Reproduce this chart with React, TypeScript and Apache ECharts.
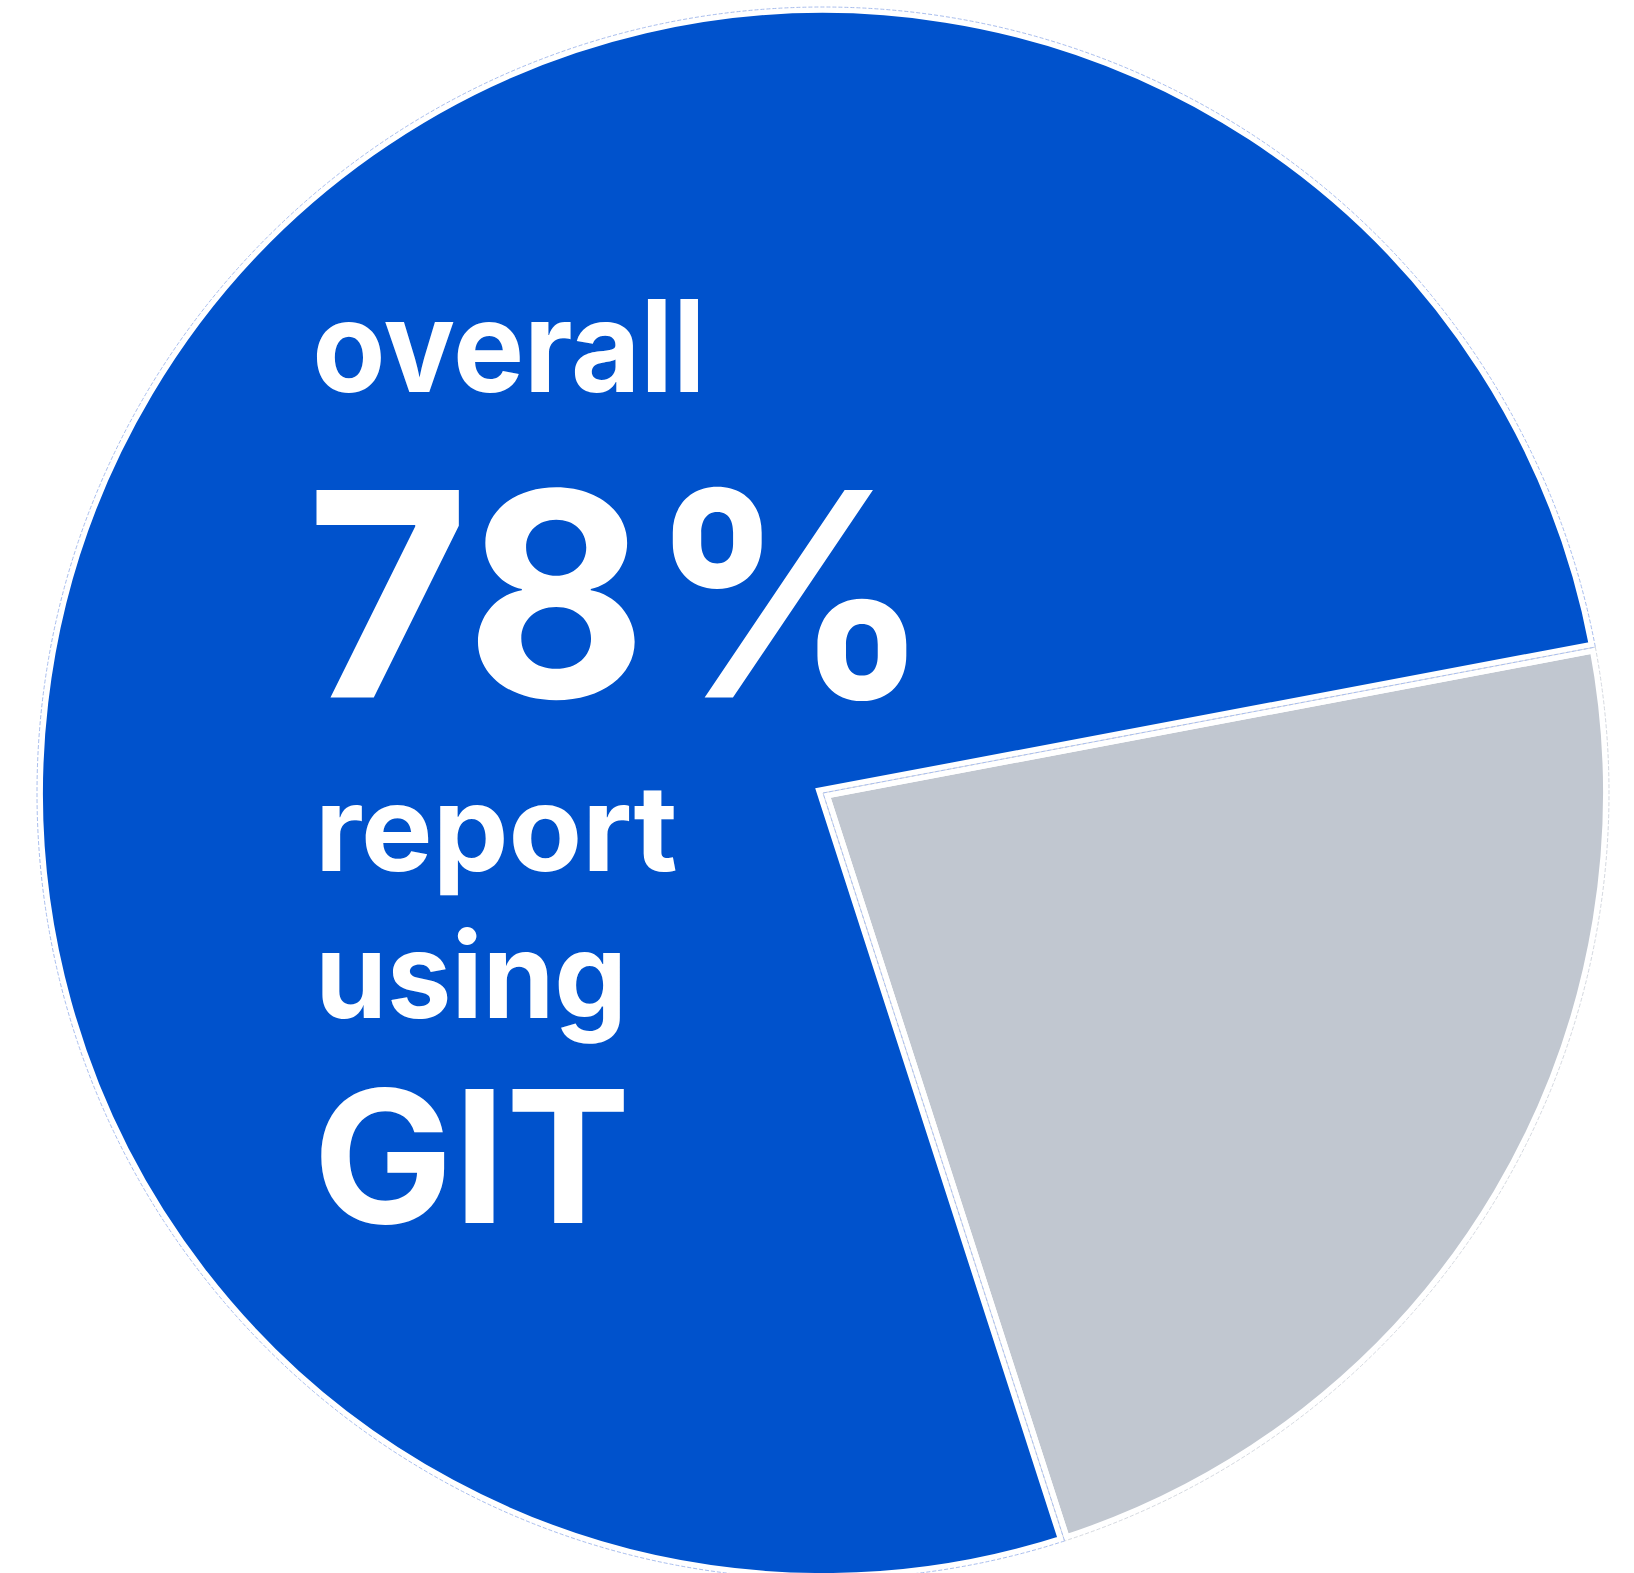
import React, { useEffect, useRef } from 'react';
import * as echarts from 'echarts';

// ---- data ----
const sliceNames = ['Other', 'GIT'];
const sliceValues = [23, 77];
const sliceColors = ['#C1C7D0', '#0052CC'];
const outlineColors = ['#D5D9E0', '#A9BEEE'];
const headlineTexts = ['overall', '78%', 'report', 'using', 'GIT'];

// ---- layout ----
const W = 1634;
const H = 1573;
const CENTER: [number, number] = [823, 793];
const RADIUS = 786;
const BORDER = 12;
const FONT = 'Inter';
const WEIGHT = 700;
// ink boxes: [left, right, top, baseline]
const TEXT_BOXES = [
  [317, 698, 299, 392],
  [315, 910, 486, 697],
  [322, 676, 790, 871],
  [322, 620, 925, 1018],
  [321, 624, 1087, 1223],
];

export default function App() {
  const ref = useRef<HTMLDivElement>(null);

  useEffect(() => {
    if (!ref.current) return;
    const chart = echarts.init(ref.current, null, { renderer: 'svg', width: W, height: H });

    const canvas = document.createElement('canvas');
    const ctx = canvas.getContext('2d');
    const graphics = headlineTexts.map((t, i) => {
      const [left, right, top, base] = TEXT_BOXES[i];
      let size = (base - top) / 0.75;
      let scaleX = 1;
      let x = left;
      let y = base - size * 0.35;
      if (ctx) {
        ctx.font = `${WEIGHT} 100px ${FONT}`;
        const m = ctx.measureText(t);
        if (m.actualBoundingBoxAscent > 0) {
          size = (100 * (base - top)) / m.actualBoundingBoxAscent;
          ctx.font = `${WEIGHT} ${size}px ${FONT}`;
          const m2 = ctx.measureText(t);
          const inkW = m2.actualBoundingBoxLeft + m2.actualBoundingBoxRight;
          scaleX = (right - left) / inkW;
          x = left + scaleX * m2.actualBoundingBoxLeft;
          const fa = m2.fontBoundingBoxAscent;
          const fd = m2.fontBoundingBoxDescent;
          if (isFinite(fa) && isFinite(fd)) y = base - (fa - fd) / 2;
        }
      }
      return {
        type: 'text',
        x,
        y,
        scaleX,
        scaleY: 1,
        silent: true,
        z: 10,
        style: {
          text: t,
          fontSize: size,
          fontFamily: FONT,
          fontWeight: WEIGHT,
          fill: '#FFFFFF',
          textAlign: 'left',
          textVerticalAlign: 'middle',
          verticalAlign: 'middle',
        },
      };
    });

    chart.setOption({
      animation: false,
      backgroundColor: '#FFFFFF',
      graphic: graphics,
      series: [
        {
          type: 'pie',
          center: CENTER,
          radius: [0, RADIUS],
          startAngle: 10.7,
          clockwise: true,
          silent: true,
          avoidLabelOverlap: false,
          label: { show: false },
          labelLine: { show: false },
          emphasis: { disabled: true },
          z: 1,
          data: sliceNames.map((n, i) => ({
            name: n,
            value: sliceValues[i],
            itemStyle: {
              color: sliceColors[i],
              borderColor: '#FFFFFF',
              borderWidth: BORDER,
              borderJoin: 'miter',
              borderMiterLimit: 10,
            },
          })),
        },
        {
          type: 'pie',
          center: CENTER,
          radius: [0, RADIUS],
          startAngle: 10.7,
          clockwise: true,
          silent: true,
          avoidLabelOverlap: false,
          label: { show: false },
          labelLine: { show: false },
          emphasis: { disabled: true },
          z: 2,
          data: sliceNames.map((n, i) => ({
            name: n,
            value: sliceValues[i],
            itemStyle: {
              color: 'rgba(0,0,0,0)',
              borderColor: outlineColors[i],
              borderWidth: 1,
              borderType: 'dashed',
            },
          })),
        },
      ],
    });

    return () => {
      chart.dispose();
    };
  }, []);

  return (
    <div
      ref={ref}
      style={{ position: 'absolute', left: 0, top: 0, width: W, height: H, background: '#FFFFFF' }}
    />
  );
}
